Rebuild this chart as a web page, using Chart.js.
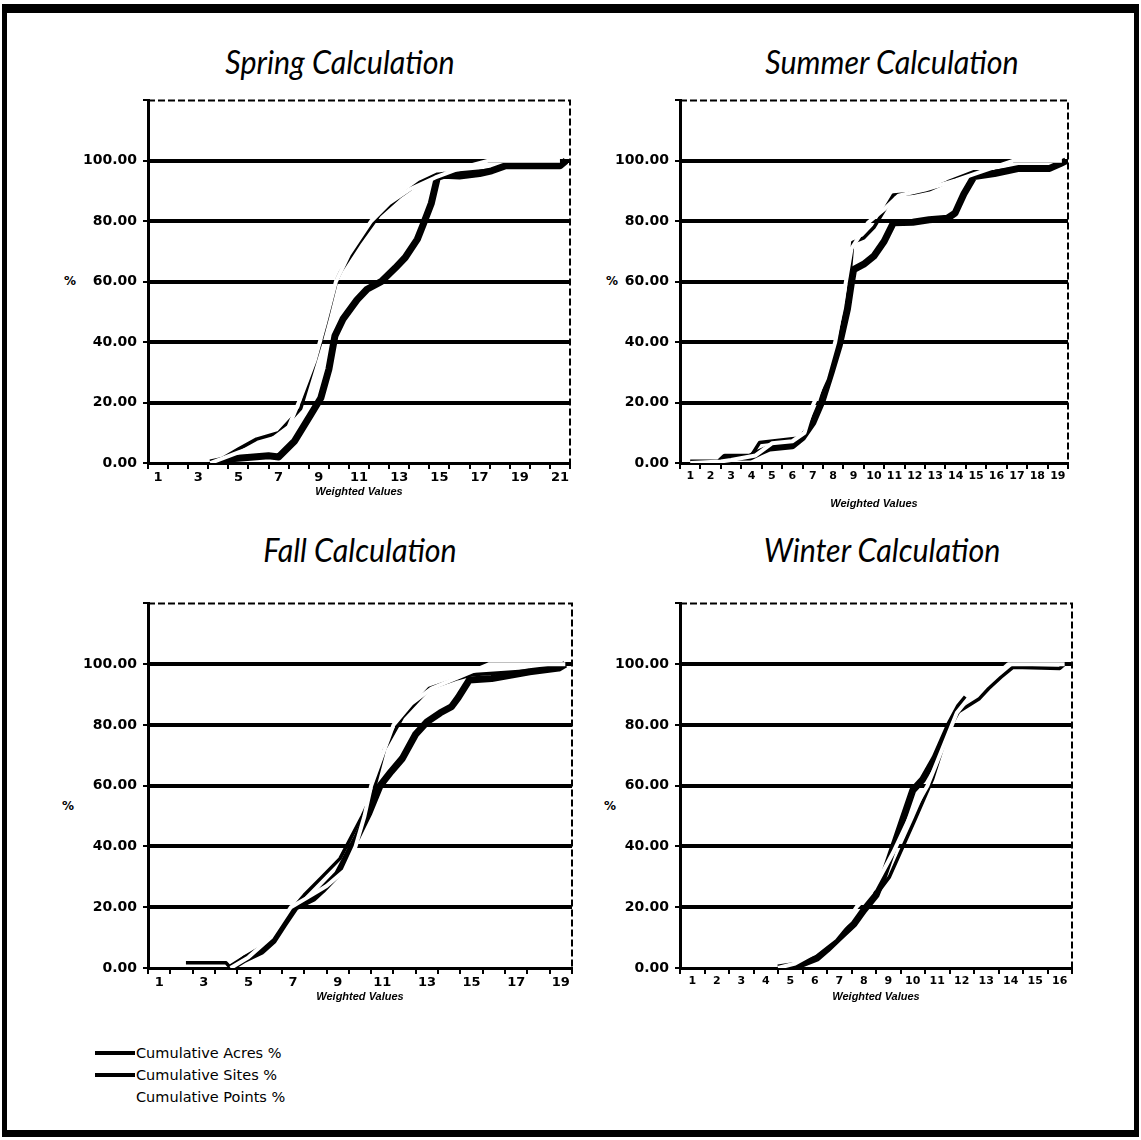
<!DOCTYPE html>
<html>
<head>
<meta charset="utf-8">
<title>Seasonal Calculations</title>
<script src="https://cdn.jsdelivr.net/npm/chart.js@4.4.1/dist/chart.umd.min.js"></script>
<style>
  html, body { margin: 0; padding: 0; background: #fff; }
  body { width: 1141px; height: 1140px; position: relative; overflow: hidden; font-family: "DejaVu Sans", sans-serif; color: #000; }
  .frame { position: absolute; left: 2px; top: 4px; width: 1137px; height: 1133px; box-sizing: border-box;
           border: 5px solid #000; border-top-width: 9px; border-bottom-width: 7px; }
  .box { position: absolute; }
  .title { position: absolute; font-family: Lato, "Open Sans", sans-serif; font-style: italic; font-size: 32px;
           white-space: nowrap; line-height: 1; transform: translate(-50%, -50%) scaleX(0.95); }
  .pct { position: absolute; font: bold 12px "DejaVu Sans", sans-serif; transform: translate(-50%, -50%); }
  .legend { position: absolute; left: 95px; top: 1042px; font: 14.5px "DejaVu Sans", sans-serif; }
  .legend div { height: 22px; display: flex; align-items: center; }
  .legend i { display: inline-block; width: 40px; height: 4px; margin-right: 1px; }
</style>
</head>
<body>
<div class="frame"></div>

<div class="title" style="left:340px; top:62px;">Spring Calculation</div>
<div class="title" style="left:892px; top:62px;">Summer Calculation</div>
<div class="title" style="left:360px; top:550px;">Fall Calculation</div>
<div class="title" style="left:882px; top:550px;">Winter Calculation</div>

<div class="pct" style="left:70px; top:281px;">%</div>
<div class="pct" style="left:612px; top:281px;">%</div>
<div class="pct" style="left:68px; top:806px;">%</div>
<div class="pct" style="left:610px; top:806px;">%</div>

<div class="box" style="left:28px; top:86px; width:552px; height:427px;"><canvas id="spring"></canvas></div>
<div class="box" style="left:560px; top:86px; width:518px; height:427px;"><canvas id="summer"></canvas></div>
<div class="box" style="left:28px; top:589px; width:554px; height:429px;"><canvas id="fall"></canvas></div>
<div class="box" style="left:560px; top:589px; width:522px; height:429px;"><canvas id="winter"></canvas></div>

<div class="legend">
  <div><i style="background:#000"></i>Cumulative Acres %</div>
  <div><i style="background:#000"></i>Cumulative Sites %</div>
  <div><i style="background:#fff"></i>Cumulative Points %</div>
</div>

<script>
// ---- Series names ----
const seriesNames = ['Cumulative Acres %', 'Cumulative Sites %', 'Cumulative Points %'];

// ---- Y axis ticks (percent) ----
const yTicks = [0, 20, 40, 60, 80, 100, 120];

// ---- Spring: weighted values 1..21 ----
const springCategories = 21;
const springAcresX  = [3.6, 4.5, 5.6, 6.5, 7.0, 7.8, 8.6, 9.1, 9.5, 9.8, 10.2, 10.9, 11.4, 12.1, 12.8, 13.3, 13.9, 14.2, 14.6, 14.9, 15.2, 16.0, 17.0, 17.6, 18.3, 21.0, 21.3];
const springAcresY  = [0, 1.3, 1.9, 2.4, 2.0, 7.3, 16, 21.5, 31, 42, 47.6, 54, 57.5, 60, 64.5, 68, 74, 79, 86, 94.5, 95.2, 95, 95.8, 96.7, 98.4, 98.4, 100];
const springSitesX  = [3.6, 4.2, 5.0, 5.9, 7.0, 8.1, 9.1, 9.45, 9.9, 10.1, 11.0, 12.0, 13.0, 14.05, 14.9, 16.0, 17.6, 18.3, 21.0];
const springSitesY  = [0, 1.5, 4.6, 7.9, 10, 18, 40, 48.7, 60.7, 63.5, 72.7, 82, 88, 93, 95.6, 96, 97, 98.4, 98.4];
const springPointsX = [3.6, 5.0, 6.5, 7.5, 8.0, 8.8, 9.3, 9.85, 10.5, 11.6, 12.5, 13.5, 14.8, 16.0, 17.4, 21.0];
const springPointsY = [0, 3.5, 7, 12, 20, 34, 46, 60, 69, 80, 86, 90.5, 94.5, 97.5, 100, 100];

// ---- Summer: weighted values 1..19 ----
const summerCategories = 19;
const summerAcresX  = [1.0, 2.4, 2.7, 3.95, 4.4, 4.9, 6.0, 6.5, 7.0, 7.45, 7.9, 8.3, 8.7, 8.9, 9.0, 9.5, 10.0, 10.5, 10.95, 11.9, 12.7, 13.6, 13.97, 14.4, 14.9, 15.9, 17.1, 18.6, 19.1, 19.4];
const summerAcresY  = [0, 0, 1.9, 2, 3.5, 5, 5.7, 8.4, 13.3, 20.4, 30, 39, 51, 60, 64, 65.8, 68.5, 73.4, 79.5, 79.7, 80.5, 81, 82.7, 89, 94.8, 95.8, 97.5, 97.5, 99, 100];
const summerSitesX  = [1.0, 2.4, 2.7, 3.95, 4.4, 6.0, 6.5, 7.0, 7.45, 7.9, 8.3, 8.7, 8.96, 9.5, 10.0, 10.95, 11.9, 12.7, 13.6, 14.9, 15.9, 17.1, 18.6, 19.1];
const summerSitesY  = [0, 0, 1.9, 2, 6.8, 8, 8.4, 13.5, 21, 31, 40, 52, 73, 74.5, 78, 88.7, 89.3, 90.4, 93, 96.4, 96.5, 97.7, 97.7, 99];
const summerPointsX = [1.0, 2.5, 3.0, 4.2, 5.0, 6.0, 6.6, 7.0, 7.6, 8.1, 8.5, 8.9, 9.7, 10.5, 11.2, 12.5, 14.0, 15.5, 16.8, 19.2];
const summerPointsY = [0, 0.5, 1, 2.5, 6.5, 7.2, 10, 19, 28, 40, 55, 71, 79.5, 84, 88.5, 90.5, 93.5, 97, 100, 100];

// ---- Fall: weighted values 1..19 ----
const fallCategories = 19;
const fallAcresX  = [4.2, 4.8, 5.6, 6.1, 6.6, 7.1, 7.9, 8.3, 9.0, 9.5, 9.9, 10.4, 10.9, 11.4, 11.9, 12.5, 13.0, 13.6, 14.1, 14.4, 14.9, 15.9, 17.6, 18.9, 19.2];
const fallAcresY  = [0, 2.8, 5.6, 8.9, 14.5, 20, 22.9, 25.6, 31, 38, 43.5, 51, 60, 64.7, 69, 77, 81, 84, 86, 89, 94.8, 95.3, 97.5, 98.7, 100];
const fallSitesX  = [2.2, 4.0, 4.2, 4.8, 5.6, 6.1, 6.6, 7.1, 7.5, 8.3, 9.1, 9.6, 10.1, 10.6, 11.1, 11.9, 13.1, 14.4, 15.0, 16.0, 17.6, 18.9];
const fallSitesY  = [1.7, 1.7, 0, 3.5, 7, 10.5, 15.5, 20.5, 24, 30, 36, 43, 50, 58, 72, 82.5, 92, 95.3, 96.5, 97, 97.8, 98.7];
const fallPointsX = [4.2, 5.0, 6.0, 6.9, 7.6, 8.5, 9.3, 9.8, 10.2, 10.5, 11.0, 11.5, 12.3, 13.2, 14.5, 15.8, 19.2];
const fallPointsY = [0, 3.5, 10, 20, 23, 27, 32, 40, 50, 60, 70, 80, 87, 92, 96, 100, 100];

// ---- Winter: weighted values 1..16 ----
const winterCategories = 16;
const winterAcresX  = [4.5, 5.4, 6.1, 6.5, 7.0, 7.6, 8.0, 8.5, 8.8, 9.6, 10.0, 10.4, 10.9, 11.5, 11.9, 12.2];
const winterAcresY  = [0, 1.1, 3.3, 6.1, 10, 14.5, 19, 24, 30, 49, 58.5, 62, 69, 80, 86, 89];
const winterSitesX  = [4.5, 5.4, 6.1, 6.5, 7.0, 7.6, 8.0, 8.5, 9.05, 9.6, 10.1, 10.8, 11.3, 11.7, 12.0, 12.7, 13.1, 13.6, 14.1, 16.0, 16.2];
const winterSitesY  = [0, 1.0, 3.0, 5.8, 9.5, 14, 18.5, 24, 30, 40, 49, 62, 74.6, 83.5, 85, 88.5, 92, 95.7, 99, 98.6, 100];
const winterPointsX = [4.5, 5.2, 6.0, 6.8, 7.3, 7.7, 8.4, 9.2, 9.9, 10.6, 11.2, 11.8, 12.4, 13.2, 13.9, 16.2];
const winterPointsY = [0, 1.5, 5, 10, 15, 20, 26, 38, 50, 60, 72, 84, 90, 95, 100, 100];

// ---- helpers ----
const pairs = (xs, ys) => xs.map((x, i) => ({ x: x, y: ys[i] }));
const isWhole = v => Math.abs(v - Math.round(v)) < 1e-6;
const CLEAR = 'rgba(0,0,0,0)';

// dashed top and right edges of the plot area
const plotFrame = {
  id: 'plotFrame',
  beforeDatasetsDraw(chart) {
    const { ctx, chartArea: a } = chart;
    ctx.save();
    ctx.strokeStyle = '#000';
    ctx.lineWidth = 2;
    ctx.setLineDash([7, 3]);
    ctx.beginPath();
    ctx.moveTo(a.left, a.top);
    ctx.lineTo(a.right, a.top);
    ctx.lineTo(a.right, a.bottom);
    ctx.stroke();
    ctx.restore();
  }
};

function buildChart(id, n, labelStep, xFontSize, xTitlePad, acres, sites, points) {
  const lineStyle = (label, data, color, width, order) => ({
    label, data, borderColor: color, backgroundColor: color, borderWidth: width,
    pointRadius: 0, tension: 0, fill: false, order, borderJoinStyle: 'round', borderCapStyle: 'butt'
  });
  return new Chart(document.getElementById(id), {
    type: 'line',
    data: {
      datasets: [
        lineStyle(seriesNames[0], acres, '#000', 7, 3),
        lineStyle(seriesNames[1], sites, '#000', 3.5, 2),
        lineStyle(seriesNames[2], points, '#fff', 4, 1)
      ]
    },
    options: {
      responsive: true,
      maintainAspectRatio: false,
      animation: false,
      events: [],
      layout: { padding: { left: 0, right: 10, top: 10, bottom: 0 } },
      plugins: { legend: { display: false }, tooltip: { enabled: false }, title: { display: false } },
      scales: {
        x: {
          type: 'linear',
          min: 0.5,
          max: n + 0.5,
          afterFit: s => { s.height = 50; },
          ticks: {
            stepSize: 0.5,
            autoSkip: false,
            maxRotation: 0,
            padding: 1,
            color: '#000',
            font: { family: 'DejaVu Sans', weight: 'bold', size: xFontSize },
            callback: v => (isWhole(v) && (Math.round(v) - 1) % labelStep === 0) ? String(Math.round(v)) : ''
          },
          grid: {
            drawOnChartArea: false,
            drawTicks: true,
            tickLength: 6,
            tickWidth: 2,
            lineWidth: 2,
            color: c => (c.tick && !isWhole(c.tick.value)) ? '#000' : CLEAR,
            tickColor: c => (c.tick && !isWhole(c.tick.value)) ? '#000' : CLEAR
          },
          border: { display: true, color: '#000', width: 3 },
          title: {
            display: true,
            text: 'Weighted Values',
            color: '#000',
            font: { family: 'Liberation Sans', weight: 'bold', style: 'italic', size: 11 },
            padding: { top: 0, bottom: xTitlePad }
          }
        },
        y: {
          type: 'linear',
          min: yTicks[0],
          max: yTicks[yTicks.length - 1],
          afterFit: s => { s.width = 120; },
          afterBuildTicks: s => { s.ticks = yTicks.map(v => ({ value: v })); },
          ticks: {
            padding: 6,
            color: '#000',
            font: { family: 'DejaVu Sans', weight: 'bold', size: 14 },
            callback: v => v <= 100 ? Number(v).toFixed(2) : ''
          },
          grid: {
            drawTicks: true,
            tickLength: 5,
            tickWidth: 2,
            lineWidth: 4,
            color: c => (c.tick && c.tick.value > 0 && c.tick.value < 120) ? '#000' : CLEAR,
            tickColor: '#000'
          },
          border: { display: true, color: '#000', width: 3 }
        }
      }
    },
    plugins: [plotFrame]
  });
}

buildChart('spring', springCategories, 2, 13, 14,
  pairs(springAcresX, springAcresY), pairs(springSitesX, springSitesY), pairs(springPointsX, springPointsY));
buildChart('summer', summerCategories, 1, 11, 2,
  pairs(summerAcresX, summerAcresY), pairs(summerSitesX, summerSitesY), pairs(summerPointsX, summerPointsY));
buildChart('fall', fallCategories, 2, 13, 14,
  pairs(fallAcresX, fallAcresY), pairs(fallSitesX, fallSitesY), pairs(fallPointsX, fallPointsY));
buildChart('winter', winterCategories, 1, 11, 14,
  pairs(winterAcresX, winterAcresY), pairs(winterSitesX, winterSitesY), pairs(winterPointsX, winterPointsY));
</script>
</body>
</html>
